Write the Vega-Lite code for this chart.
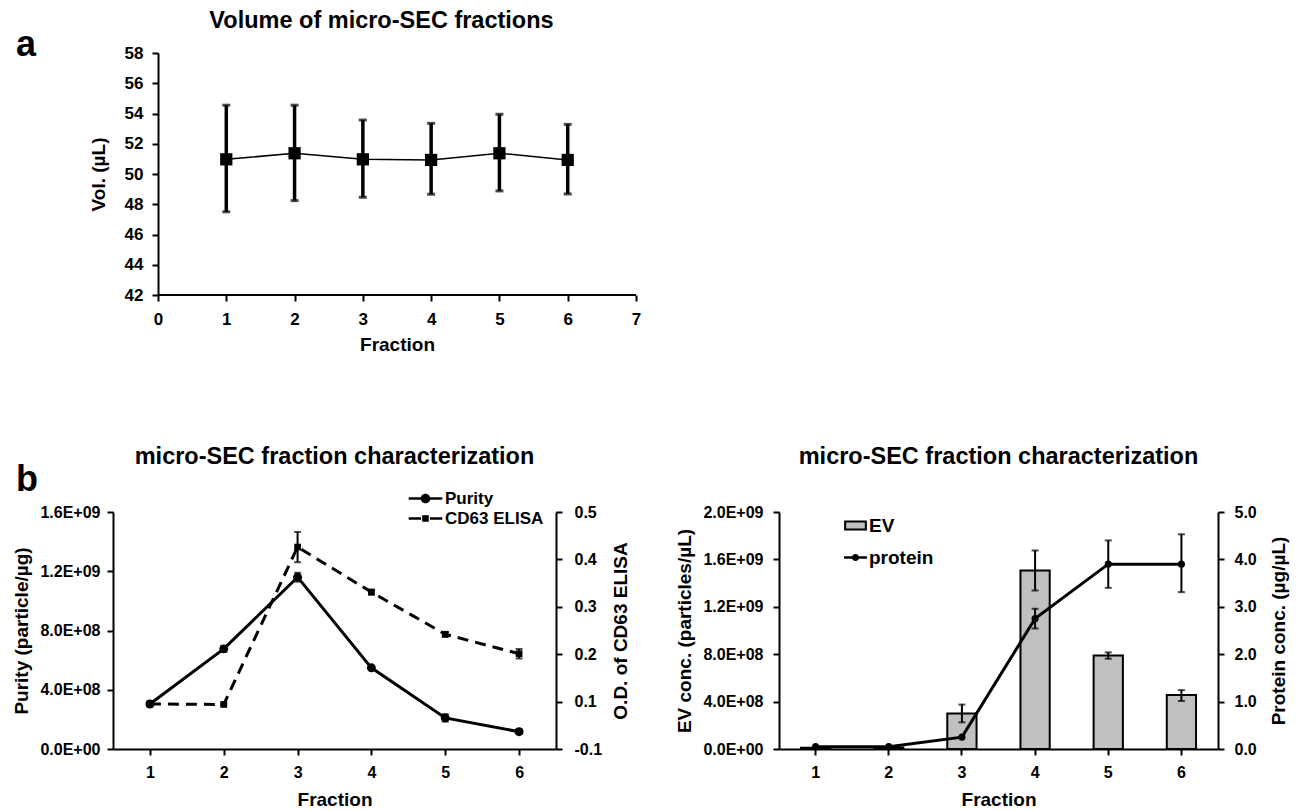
{
  "$schema": "https://vega.github.io/schema/vega-lite/v6.json",
  "background": "white",
  "padding": {"left": 12, "top": 8, "right": 5, "bottom": 2},
  "config": {
    "font": "Liberation Sans",
    "view": {"stroke": null},
    "axis": {
      "labelFont": "Liberation Sans", "labelFontWeight": "bold", "labelFontSize": 16, "labelColor": "black",
      "titleFont": "Liberation Sans", "titleFontWeight": "bold", "titleFontSize": 19, "titleColor": "black",
      "domainColor": "black", "domainWidth": 2, "tickColor": "black", "tickWidth": 2, "tickSize": 6,
      "labelPadding": 6, "grid": false, "labelFlush": false, "labelOverlap": false
    },
    "title": {"font": "Liberation Sans", "fontSize": 23.5, "fontWeight": "bold", "color": "black"},
    "legend": {"labelFont": "Liberation Sans", "labelFontWeight": "bold", "labelColor": "black"}
  },
  "columns": 1,
  "align": "none",
  "spacing": 90,
  "concat": [
    {
      "title": {"text": "a", "orient": "left", "anchor": "end", "angle": 0, "align": "right", "baseline": "top", "fontSize": 36, "offset": 33, "dy": 19},
      "vconcat": [
        {
          "width": 523, "height": 242,
          "title": {"text": "Volume of micro-SEC fractions", "offset": 12, "frame": "group", "dx": 7},
          "data": {"values": [
            {"fraction": 1, "vol": 50.97, "lo": 47.5, "hi": 54.55},
            {"fraction": 2, "vol": 51.37, "lo": 48.24, "hi": 54.55},
            {"fraction": 3, "vol": 50.97, "lo": 48.46, "hi": 53.57},
            {"fraction": 4, "vol": 50.93, "lo": 48.66, "hi": 53.35},
            {"fraction": 5, "vol": 51.37, "lo": 48.88, "hi": 53.95},
            {"fraction": 6, "vol": 50.93, "lo": 48.68, "hi": 53.28}
          ]},
          "encoding": {
            "x": {"field": "fraction", "type": "quantitative", "scale": {"domain": [0, 7], "range": [45, 523], "nice": false},
                  "axis": {"values": [0, 1, 2, 3, 4, 5, 6, 7], "format": "d", "title": "Fraction", "titlePadding": 8, "labelPadding": 10, "labelFontSize": 17, "domain": false, "titleX": 284}},
            "y": {"field": "vol", "type": "quantitative", "scale": {"domain": [42, 58], "nice": false, "zero": false},
                  "axis": {"values": [42, 44, 46, 48, 50, 52, 54, 56, 58], "title": "Vol. (µL)", "titlePadding": 16, "labelPadding": 9, "labelFontSize": 17, "offset": -45}}
          },
          "layer": [
            {"mark": {"type": "rule", "color": "black", "strokeWidth": 2},
             "encoding": {"x": {"datum": 0, "type": "quantitative"}, "x2": {"datum": 7}, "y": {"datum": 42, "type": "quantitative"}}},
            {"mark": {"type": "errorbar", "ticks": {"size": 8, "thickness": 3, "color": "black"}, "rule": {"strokeWidth": 3.5, "color": "black"}},
             "encoding": {"y": {"field": "lo", "type": "quantitative", "title": "Vol. (µL)"}, "y2": {"field": "hi"}}},
            {"mark": {"type": "line", "color": "black", "strokeWidth": 1.5}},
            {"mark": {"type": "square", "size": 150, "filled": true, "color": "black", "opacity": 1}}
          ]
        }
      ]
    },
    {
      "title": {"text": "b", "anchor": "start", "fontSize": 36, "dy": 54, "dx": 3, "offset": 0},
      "spacing": 44,
      "resolve": {"scale": {"shape": "independent", "fill": "independent"}, "legend": {"shape": "independent", "fill": "independent"}},
      "hconcat": [
        {
          "width": 443, "height": 237,
          "title": {"text": "micro-SEC fraction characterization", "offset": 22},
          "data": {"values": [
            {"fraction": 1, "series": "Purity", "value": 304000000, "lo": 294000000, "hi": 314000000},
            {"fraction": 2, "series": "Purity", "value": 676000000, "lo": 656000000, "hi": 696000000},
            {"fraction": 3, "series": "Purity", "value": 1160000000, "lo": 1130000000, "hi": 1190000000},
            {"fraction": 4, "series": "Purity", "value": 548000000, "lo": 538000000, "hi": 558000000},
            {"fraction": 5, "series": "Purity", "value": 210000000, "lo": 185000000, "hi": 235000000},
            {"fraction": 6, "series": "Purity", "value": 117000000, "lo": 102000000, "hi": 132000000},
            {"fraction": 1, "series": "CD63 ELISA", "value": 0.095, "lo": 0.092, "hi": 0.098},
            {"fraction": 2, "series": "CD63 ELISA", "value": 0.094, "lo": 0.092, "hi": 0.096},
            {"fraction": 3, "series": "CD63 ELISA", "value": 0.426, "lo": 0.394, "hi": 0.458},
            {"fraction": 4, "series": "CD63 ELISA", "value": 0.331, "lo": 0.326, "hi": 0.336},
            {"fraction": 5, "series": "CD63 ELISA", "value": 0.242, "lo": 0.237, "hi": 0.247},
            {"fraction": 6, "series": "CD63 ELISA", "value": 0.201, "lo": 0.191, "hi": 0.211}
          ]},
          "layer": [
            {
              "transform": [{"filter": "datum.series === 'Purity'"}],
              "encoding": {
                "x": {"field": "fraction", "type": "ordinal", "scale": {"type": "point", "padding": 0.5},
                      "axis": {"labelAngle": 0, "title": "Fraction", "labelPadding": 9, "titlePadding": 10}},
                "y": {"field": "value", "type": "quantitative", "scale": {"domain": [0, 1600000000], "nice": false},
                      "axis": {"orient": "left", "values": [0, 400000000, 800000000, 1200000000, 1600000000], "title": "Purity (particle/µg)", "titlePadding": 8, "labelPadding": 7,
                               "labelExpr": "datum.value === 0 ? '0.0E+00' : format(datum.value / pow(10, floor(log(datum.value) / LN10)), '.1f') + 'E+' + (floor(log(datum.value) / LN10) < 10 ? '0' : '') + floor(log(datum.value) / LN10)"}}
              },
              "layer": [
                {"mark": {"type": "errorbar", "ticks": {"size": 7, "thickness": 2, "color": "black"}, "rule": {"strokeWidth": 2, "color": "black"}},
                 "encoding": {"y": {"field": "lo", "type": "quantitative", "title": "Purity (particle/µg)"}, "y2": {"field": "hi"}}},
                {"mark": {"type": "line", "color": "black", "strokeWidth": 3}},
                {"mark": {"type": "point", "shape": "circle", "filled": true, "color": "black", "opacity": 1, "size": 80}},
                {"mark": {"type": "point", "filled": true, "color": "black", "opacity": 0},
                 "encoding": {"shape": {"field": "series", "type": "nominal",
                   "scale": {"domain": ["Purity", "CD63 ELISA"], "range": ["M-2.8,-0.22H2.8V0.22H-2.8Z M-0.8,0A0.8,0.8,0,1,1,0.8,0A0.8,0.8,0,1,1,-0.8,0Z", "M-2.8,-0.22H-0.75V0.22H-2.8Z M0.75,-0.22H2.8V0.22H0.75Z M-0.55,-0.55H0.55V0.55H-0.55Z"]},
                   "legend": {"orient": "none", "legendX": 304, "legendY": -22, "title": null, "padding": 0,
                              "labelFontSize": 17, "symbolSize": 144, "rowPadding": 2, "labelOffset": 11,
                              "symbolOpacity": 1, "symbolFillColor": "black", "symbolStrokeWidth": 0}}}}
              ]
            },
            {
              "transform": [{"filter": "datum.series === 'CD63 ELISA'"}],
              "encoding": {
                "x": {"field": "fraction", "type": "ordinal", "scale": {"type": "point", "padding": 0.5}},
                "y": {"field": "value", "type": "quantitative", "scale": {"domain": [0, 0.5], "nice": false},
                      "axis": {"orient": "right", "values": [0, 0.1, 0.2, 0.3, 0.4, 0.5], "title": "O.D. of CD63 ELISA", "titleAngle": 270, "titleBaseline": "top", "titlePadding": 10, "labelPadding": 12,
                               "labelExpr": "datum.value === 0 ? '-0.1' : format(datum.value, '.1f')"}}
              },
              "layer": [
                {"mark": {"type": "errorbar", "ticks": {"size": 7, "thickness": 2, "color": "black"}, "rule": {"strokeWidth": 2, "color": "black"}},
                 "encoding": {"y": {"field": "lo", "type": "quantitative", "title": "O.D. of CD63 ELISA"}, "y2": {"field": "hi"}}},
                {"mark": {"type": "line", "color": "black", "strokeWidth": 3, "strokeDash": [11, 7]}},
                {"mark": {"type": "point", "shape": "square", "filled": true, "color": "black", "opacity": 1, "size": 45}}
              ]
            }
          ],
          "resolve": {"scale": {"y": "independent"}}
        },
        {
          "width": 439, "height": 237,
          "title": {"text": "micro-SEC fraction characterization", "offset": 36},
          "data": {"values": [
            {"fraction": 1, "series": "EV", "value": 10000000},
            {"fraction": 2, "series": "EV", "value": 12000000},
            {"fraction": 3, "series": "EV", "value": 300000000, "lo": 225000000, "hi": 375000000},
            {"fraction": 4, "series": "EV", "value": 1507000000, "lo": 1338000000, "hi": 1676000000},
            {"fraction": 5, "series": "EV", "value": 789000000, "lo": 762000000, "hi": 815000000},
            {"fraction": 6, "series": "EV", "value": 456000000, "lo": 405000000, "hi": 497000000},
            {"fraction": 1, "series": "protein", "value": 0.05},
            {"fraction": 2, "series": "protein", "value": 0.05},
            {"fraction": 3, "series": "protein", "value": 0.25},
            {"fraction": 4, "series": "protein", "value": 2.75, "lo": 2.54, "hi": 2.96},
            {"fraction": 5, "series": "protein", "value": 3.9, "lo": 3.4, "hi": 4.4},
            {"fraction": 6, "series": "protein", "value": 3.9, "lo": 3.31, "hi": 4.53}
          ]},
          "layer": [
            {
              "transform": [{"filter": "datum.series === 'EV'"}],
              "encoding": {
                "x": {"field": "fraction", "type": "ordinal", "scale": {"paddingInner": 0.6, "paddingOuter": 0.3},
                      "axis": {"labelAngle": 0, "title": "Fraction", "labelPadding": 9, "titlePadding": 10}},
                "y": {"field": "value", "type": "quantitative", "scale": {"domain": [0, 2000000000], "nice": false},
                      "axis": {"orient": "left", "values": [0, 400000000, 800000000, 1200000000, 1600000000, 2000000000], "title": "EV conc. (particles/µL)", "titlePadding": 8, "labelPadding": 10,
                               "labelExpr": "datum.value === 0 ? '0.0E+00' : format(datum.value / pow(10, floor(log(datum.value) / LN10)), '.1f') + 'E+' + (floor(log(datum.value) / LN10) < 10 ? '0' : '') + floor(log(datum.value) / LN10)"}}
              },
              "layer": [
                {"mark": {"type": "bar", "fill": "#c0c0c0", "stroke": "black", "strokeWidth": 2}},
                {"transform": [{"filter": "isValid(datum.lo)"}],
                 "mark": {"type": "errorbar", "ticks": {"size": 7, "thickness": 2, "color": "black"}, "rule": {"strokeWidth": 2, "color": "black"}},
                 "encoding": {"y": {"field": "lo", "type": "quantitative", "title": "EV conc. (particles/µL)"}, "y2": {"field": "hi"}}},
                {"mark": {"type": "point", "shape": "M-1.62,-0.57H1.62V0.57H-1.62Z", "filled": true, "opacity": 0},
                 "encoding": {"fill": {"field": "series", "type": "nominal",
                   "scale": {"domain": ["EV"], "range": ["#c0c0c0"]},
                   "legend": {"orient": "none", "legendX": 67, "legendY": 4, "title": null, "padding": 0,
                              "labelFontSize": 19, "symbolSize": 144, "rowPadding": 12, "labelOffset": 4,
                              "labelOpacity": 0, "symbolOpacity": 1, "symbolStrokeWidth": 0}}}}
              ]
            },
            {
              "transform": [{"filter": "datum.series === 'protein'"}],
              "encoding": {
                "x": {"field": "fraction", "type": "ordinal"},
                "y": {"field": "value", "type": "quantitative", "scale": {"domain": [0, 5], "nice": false},
                      "axis": {"orient": "right", "values": [0, 1, 2, 3, 4, 5], "format": ".1f", "title": "Protein conc. (µg/µL)", "titleAngle": 270, "titleBaseline": "top", "titlePadding": 13, "labelPadding": 10}}
              },
              "layer": [
                {"transform": [{"filter": "isValid(datum.lo)"}],
                 "mark": {"type": "errorbar", "ticks": {"size": 7, "thickness": 2, "color": "black"}, "rule": {"strokeWidth": 2, "color": "black"}},
                 "encoding": {"y": {"field": "lo", "type": "quantitative", "title": "Protein conc. (µg/µL)"}, "y2": {"field": "hi"}}},
                {"mark": {"type": "line", "color": "black", "strokeWidth": 3}},
                {"mark": {"type": "point", "shape": "circle", "filled": true, "color": "black", "opacity": 1, "size": 50}},
                {"mark": {"type": "point", "filled": true, "color": "black", "opacity": 0},
                 "encoding": {
                   "shape": {"field": "series", "type": "nominal",
                     "scale": {"domain": ["EV", "protein"], "range": ["M-1.9,-0.85H1.9V0.85H-1.9Z M-1.55,-0.5V0.5H1.55V-0.5Z", "M-1.9,-0.22H1.9V0.22H-1.9Z M-0.6,0A0.6,0.6,0,1,1,0.6,0A0.6,0.6,0,1,1,-0.6,0Z"]},
                     "legend": {"orient": "none", "legendX": 67, "legendY": 4, "title": null, "padding": 0,
                                "labelFontSize": 19, "symbolSize": 144, "rowPadding": 12, "labelOffset": 4,
                                "symbolOpacity": 1, "symbolFillColor": "black", "symbolStrokeWidth": 0}}
                 }}
              ]
            }
          ],
          "resolve": {"scale": {"y": "independent"}}
        }
      ]
    }
  ]
}
